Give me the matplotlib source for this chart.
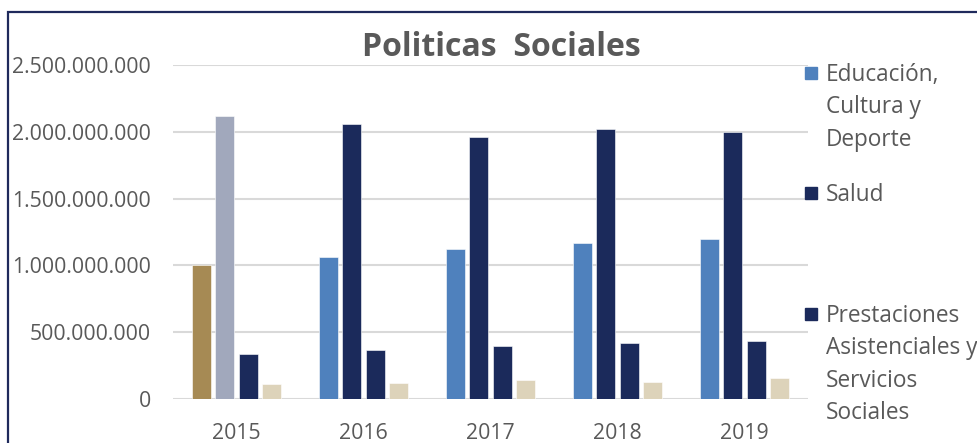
import matplotlib.pyplot as plt
import numpy as np
from matplotlib.patches import Rectangle
from matplotlib.ticker import FuncFormatter

plt.rcParams['font.family'] = ['Open Sans', 'DejaVu Sans']

years = ['2015', '2016', '2017', '2018', '2019']
educacion = [1.00e9, 1.06e9, 1.12e9, 1.17e9, 1.20e9]
salud = [2.12e9, 2.06e9, 1.96e9, 2.02e9, 2.00e9]
prestaciones = [335e6, 367e6, 397e6, 419e6, 434e6]
otros = [110e6, 120e6, 140e6, 130e6, 160e6]

legend_labels = ['Educación,\nCultura y\nDeporte', 'Salud',
                 'Prestaciones\nAsistenciales y\nServicios\nSociales']

blue = '#4F81BD'
navy = '#1B2A5B'
beige = '#DDD3BA'
series = [
    (educacion, ['#A68A54'] + [blue] * 4),
    (salud, ['#A1A8BC'] + [navy] * 4),
    (prestaciones, [navy] * 5),
    (otros, [beige] * 5),
]

txt = '#595959'
W, H = 977, 443
fig = plt.figure(figsize=(W / 100, H / 100), dpi=100)
ax = fig.add_axes([173 / W, 1 - 399 / H, 635 / W, 334 / H])

x = np.arange(len(years))
step = 0.1835
width = 0.15
for i, (vals, cols) in enumerate(series):
    ax.bar(x + (i - 1.5) * step, vals, width, color=cols,
           edgecolor='white', linewidth=0.4, zorder=3)

ax.set_xlim(-0.5, 4.5)
ax.set_ylim(0, 2.5e9)
ax.set_yticks(np.arange(0, 2.5e9 + 1, 5e8))
ax.yaxis.set_major_formatter(FuncFormatter(lambda v, p: f"{int(v):,}".replace(",", ".")))
ax.set_xticks(x)
ax.set_xticklabels(years)
ax.grid(axis='y', color='#D9D9D9', linewidth=1.5, zorder=0)
for s in ['top', 'right', 'left', 'bottom']:
    ax.spines[s].set_visible(False)
ax.tick_params(axis='both', length=0, labelsize=15.3, labelcolor=txt)
ax.tick_params(axis='y', pad=16)
ax.tick_params(axis='x', pad=17)

fig.text(501 / W, 1 - 48 / H, 'Politicas  Sociales', ha='center', va='center',
         fontsize=23, fontweight='bold', color=txt)

# legend drawn by hand, the fourth entry is cut off in the original
leg_y = [73, 193, 314]
leg_c = [blue, navy, navy]
for y, c, lab in zip(leg_y, leg_c, legend_labels):
    fig.patches.append(Rectangle((805 / W, 1 - (y + 6) / H), 12 / W, 12 / H,
                                 transform=fig.transFigure, color=c))
    fig.text(826 / W, 1 - (y - 10) / H, lab, ha='left', va='top',
             fontsize=16.3, color=txt, linespacing=1.47)

fig.patches.append(Rectangle((8 / W, -0.2), 1.5, 1.2 - 12 / H, transform=fig.transFigure,
                             fill=False, edgecolor='#1F2A5C', linewidth=1.6))

fig.savefig('out.png', dpi=100)
